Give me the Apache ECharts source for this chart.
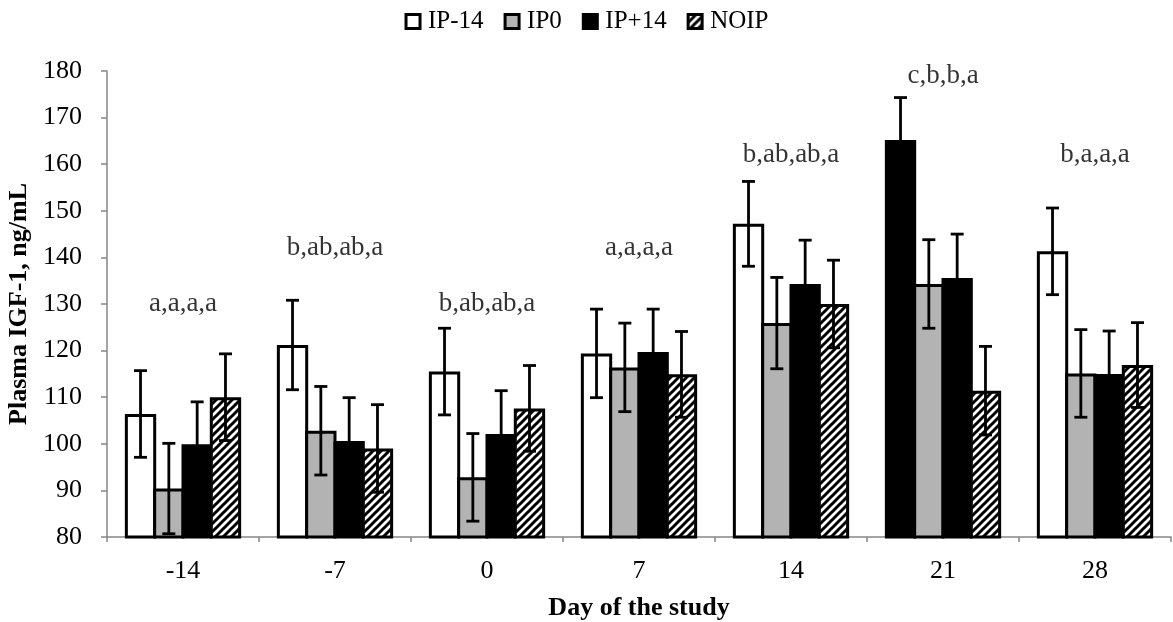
<!DOCTYPE html>
<html>
<head>
<meta charset="utf-8">
<script src="https://cdn.jsdelivr.net/npm/echarts@6/dist/echarts.min.js"></script>
<style>html,body{margin:0;padding:0;background:#fff;}#c{width:1173px;height:622px;}</style>
</head>
<body>
<div id="c"></div>
<script>
const categories = ['-14', '-7', '0', '7', '14', '21', '28'];
const seriesNames = ['IP-14', 'IP0', 'IP+14', 'NOIP'];
const ipMinus14 = [106.4, 121.2, 115.5, 119.4, 147.2, 165.2, 141.3];
const ip0 = [90.4, 102.8, 92.8, 116.4, 125.9, 134.3, 115.1];
const ipPlus14 = [99.9, 100.6, 102.1, 119.7, 134.3, 135.6, 115.0];
const noip = [110.0, 99.0, 107.6, 114.9, 130.0, 111.4, 116.9];
const seIpMinus14 = [9.3, 9.6, 9.3, 9.5, 9.1, 9.1, 9.3];
const seIp0 = [9.7, 9.5, 9.4, 9.5, 9.8, 9.5, 9.4];
const seIpPlus14 = [9.1, 9.3, 9.3, 9.2, 9.4, 9.4, 9.2];
const seNoip = [9.3, 9.4, 9.2, 9.2, 9.4, 9.5, 9.1];
const letters = ['a,a,a,a', 'b,ab,ab,a', 'b,ab,ab,a', 'a,a,a,a', 'b,ab,ab,a', 'c,b,b,a', 'b,a,a,a'];
const letterY = [130, 142, 130, 142, 162, 179, 162];
const yTicks = [80, 90, 100, 110, 120, 130, 140, 150, 160, 170, 180];

const FONT = 'Liberation Serif';
const values = [ipMinus14, ip0, ipPlus14, noip];
const errors = [seIpMinus14, seIp0, seIpPlus14, seNoip];

// hatch pattern
const pc = document.createElement('canvas');
pc.width = 8; pc.height = 8;
const g = pc.getContext('2d');
g.fillStyle = '#fff'; g.fillRect(0, 0, 8, 8);
g.strokeStyle = '#000'; g.lineWidth = 3;
g.beginPath();
g.moveTo(-2, 10); g.lineTo(10, -2);
g.moveTo(-2, 2); g.lineTo(2, -2);
g.moveTo(6, 10); g.lineTo(10, 6);
g.stroke();
const hatch = { image: pc, repeat: 'repeat' };

const fills = ['#ffffff', '#b3b3b3', '#000000', hatch];
const CAT_GAP = 0.235;
const BAR_GAP = -0.096;
const BORDER = 3;

const chart = echarts.init(document.getElementById('c'), null, { renderer: 'canvas' });

const series = [];
values.forEach((arr, si) => {
  series.push({
    name: seriesNames[si],
    type: 'bar',
    barGap: (BAR_GAP * 100) + '%',
    barCategoryGap: (CAT_GAP * 100) + '%',
    itemStyle: { color: fills[si], borderColor: '#000', borderWidth: BORDER },
    data: arr.map((v, i) => (si === 0 && i === 5) ? { value: v, itemStyle: { color: '#000' } } : v),
    z: 2
  });
});
values.forEach((arr, si) => {
  series.push({
    name: seriesNames[si] + '_err',
    type: 'custom',
    z: 5,
    silent: true,
    data: arr.map((v, i) => [i, v, errors[si][i]]),
    renderItem: function (params, api) {
      const x = api.value(0), y = api.value(1), e = api.value(2);
      const band = api.size([1, 0])[0];
      const w = band * (1 - CAT_GAP) / (4 + 3 * BAR_GAP);
      const pitch = w * (1 + BAR_GAP);
      const p = api.coord([x, y]);
      const top = api.coord([x, y + e]);
      const bot = api.coord([x, y - e]);
      const cx = p[0] + (si - 1.5) * pitch;
      const cap = 6.5;
      const st = { stroke: '#000', lineWidth: 2.8 };
      return {
        type: 'group',
        children: [
          { type: 'line', shape: { x1: cx, y1: top[1], x2: cx, y2: bot[1] }, style: st },
          { type: 'line', shape: { x1: cx - cap, y1: top[1], x2: cx + cap, y2: top[1] }, style: st },
          { type: 'line', shape: { x1: cx - cap, y1: bot[1], x2: cx + cap, y2: bot[1] }, style: st }
        ]
      };
    }
  });
});
series.push({
  name: 'letters',
  type: 'scatter',
  symbolSize: 0,
  silent: true,
  z: 6,
  data: letterY.map((y, i) => [i, y]),
  label: {
    show: true,
    position: 'inside',
    formatter: p => letters[p.dataIndex],
    fontFamily: FONT,
    fontSize: 27,
    color: '#000'
  }
});

chart.setOption({
  animation: false,
  backgroundColor: '#fff',
  legend: {
    data: seriesNames,
    top: 4,
    left: 'center',
    itemWidth: 14,
    itemHeight: 14,
    itemGap: 20,
    icon: 'rect',
    itemStyle: { borderColor: '#000', borderWidth: 3 },
    textStyle: { fontFamily: FONT, fontSize: 25, color: '#000', padding: [0, 0, 0, 3] }
  },
  grid: { left: 107, right: 2, top: 71, bottom: 85, outerBoundsMode: 'none', containLabel: false },
  xAxis: {
    type: 'category',
    data: categories,
    name: 'Day of the study',
    nameLocation: 'middle',
    nameGap: 58,
    nameTextStyle: { fontFamily: FONT, fontSize: 26, fontWeight: 'bold', color: '#000' },
    axisLine: { lineStyle: { color: '#868686', width: 1.5 } },
    axisTick: { show: true, length: 5, lineStyle: { color: '#868686', width: 1.5 } },
    axisLabel: { fontFamily: FONT, fontSize: 26, color: '#000', margin: 21 }
  },
  yAxis: {
    type: 'value',
    min: yTicks[0],
    max: yTicks[yTicks.length - 1],
    interval: 10,
    name: 'Plasma IGF-1, ng/mL',
    nameLocation: 'middle',
    nameGap: 64,
    nameTextStyle: { fontFamily: FONT, fontSize: 26, fontWeight: 'bold', color: '#000' },
    splitLine: { show: false },
    axisLine: { show: true, lineStyle: { color: '#868686', width: 1.5 } },
    axisTick: { show: true, length: 6, lineStyle: { color: '#868686', width: 1.5 } },
    axisLabel: { fontFamily: FONT, fontSize: 26, color: '#000', margin: 25 }
  },
  series: series
});
</script>
</body>
</html>
